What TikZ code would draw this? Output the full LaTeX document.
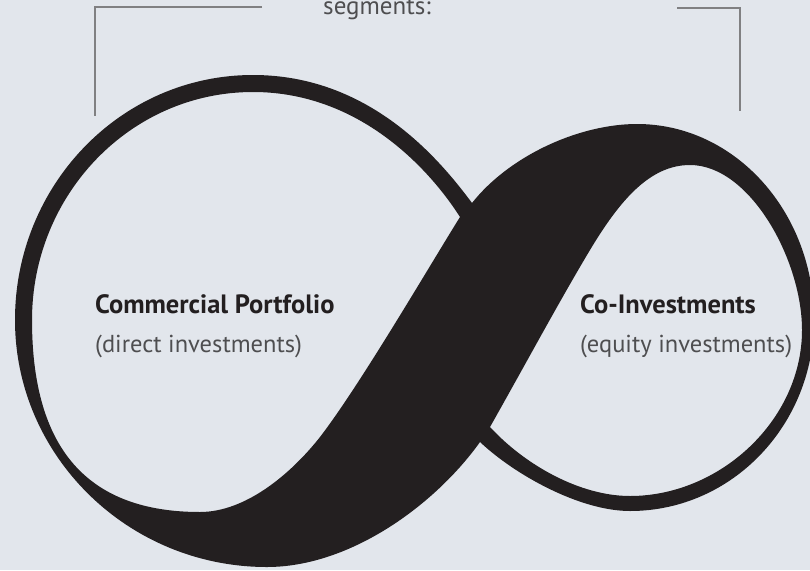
\documentclass[tikz,border=0pt]{standalone}
\usepackage{fontspec}
\setmainfont{PT Sans}
\usepackage{tikz}
\definecolor{paper}{RGB}{226,230,236}
\definecolor{ink}{RGB}{35,31,32}
\definecolor{soft}{RGB}{78,78,80}
\definecolor{rulegray}{RGB}{128,128,130}

\begin{document}
\begin{tikzpicture}[x=1pt, y=-1pt,
  label/.style={anchor=base west, inner sep=0pt, text=ink, font=\fontsize{26.5}{30}\selectfont\bfseries},
  sublabel/.style={anchor=base west, inner sep=0pt, text=soft, font=\fontsize{24.5}{28}\selectfont},
  bracket/.style={draw=rulegray, line width=1.1pt}]
\useasboundingbox (0,0) rectangle (810,570);
\fill[paper] (0,0) rectangle (810,570);
\clip (0,0) rectangle (810,570);

% bracket above the loops
\coordinate (lend) at (262,7);
\coordinate (lcorner) at (95,7);
\coordinate (lfoot) at (95,116);
\coordinate (rend) at (677,8);
\coordinate (rcorner) at (740,8);
\coordinate (rfoot) at (740,111);
\draw[bracket] (lend) -- (lcorner) -- (lfoot);
\draw[bracket] (rend) -- (rcorner) -- (rfoot);
\node[sublabel, anchor=base, font=\fontsize{25}{28}\selectfont] (segments) at (377,14) {segments:};

% the infinity ribbon: outer edge, then the two holes
\fill[ink, even odd rule]
  (472,203) .. controls (510,155) and (580,124) .. (637,124)
  .. controls (735,124) and (814,212) .. (814,320)
  .. controls (814,425) and (732,511) .. (630,511)
  .. controls (580,511) and (515,475) .. (480,442)
  .. controls (435,505) and (350,567) .. (267,567)
  .. controls (128,567) and (15,456) .. (15,320)
  .. controls (15,185) and (121,75) .. (253,75)
  .. controls (370,75) and (440,160) .. (472,203) -- cycle
  (460,217) .. controls (430,265) and (360,385) .. (320,437)
  .. controls (290,475) and (245,512) .. (200,512)
  .. controls (80,512) and (32,440) .. (32,320)
  .. controls (32,195) and (130,92) .. (253,92)
  .. controls (360,92) and (430,170) .. (460,217) -- cycle
  (490,427) .. controls (525,365) and (560,300) .. (590,250)
  .. controls (620,200) and (650,165) .. (690,165)
  .. controls (750,165) and (802,260) .. (802,330)
  .. controls (802,420) and (720,496) .. (630,496)
  .. controls (580,496) and (525,465) .. (490,427) -- cycle;

% segment labels
\node[label] (commercial) at (95,313) {Commercial Portfolio};
\node[sublabel] (direct) at (95,352) {(direct investments)};
\node[label] (coinvest) at (580,313) {Co-Investments};
\node[sublabel] (equity) at (580,352) {(equity investments)};
\end{tikzpicture}
\end{document}
